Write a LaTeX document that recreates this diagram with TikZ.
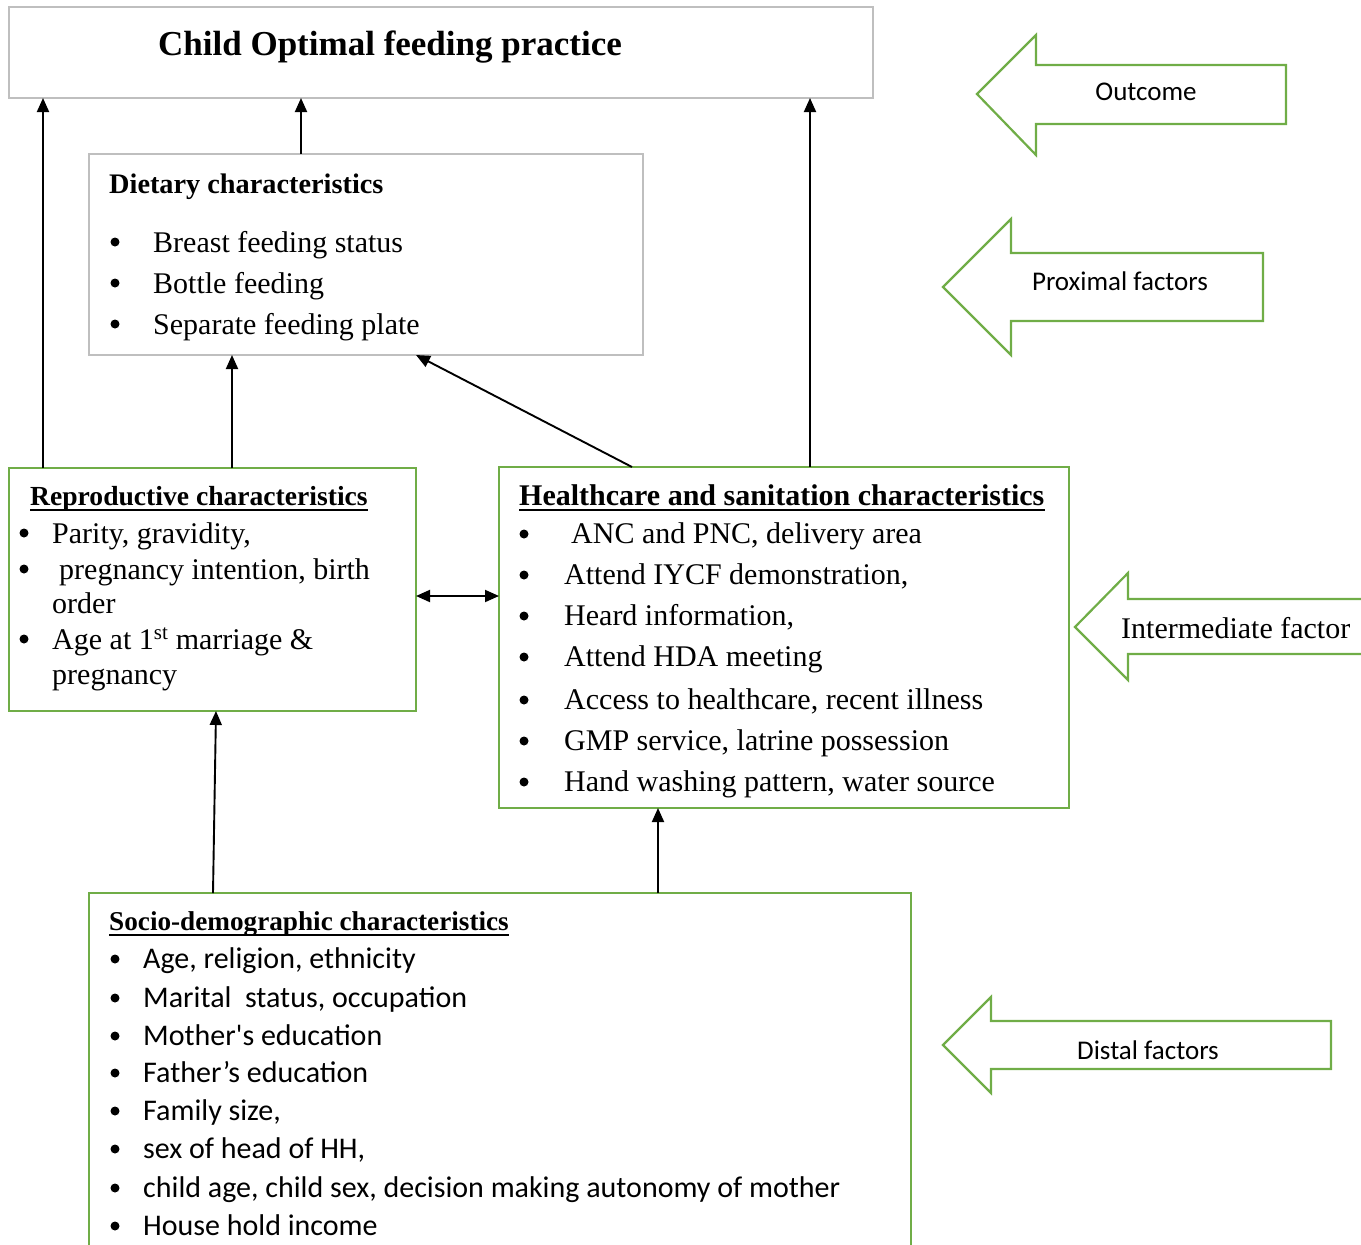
\documentclass[tikz,border=0pt]{standalone}
\usepackage{fontspec}
\setmainfont{Liberation Serif}
\newfontfamily\calfont{Carlito}
\usetikzlibrary{arrows.meta}
\definecolor{ogreen}{RGB}{112,173,71}
\definecolor{bgray}{RGB}{191,191,191}
\begin{document}
\begin{tikzpicture}[x=1pt,y=-1pt,
  gbox/.style={draw=ogreen, line width=2.2pt, line join=miter},
  graybox/.style={draw=bgray, line width=2.4pt},
  boxnode/.style={anchor=north west, inner sep=0pt, outer sep=0pt},
  conn/.style={draw=black, line width=1.9pt, -{Triangle[length=14pt,width=12pt]}},
  dconn/.style={draw=black, line width=1.9pt, {Triangle[length=14pt,width=12pt]}-{Triangle[length=14pt,width=12pt]}},
  txt/.style={anchor=base west, inner sep=0pt, font=\fontsize{30}{36}\selectfont},
  stxt/.style={anchor=base west, inner sep=0pt, font=\calfont\fontsize{30}{36}\selectfont},
  head/.style={anchor=base west, inner sep=0pt, font=\bfseries\fontsize{27.6}{34}\selectfont},
  bdot/.style={circle, fill=black, inner sep=0pt, minimum size=9pt},
  uline/.style={draw=black, line width=1.8pt},
  albl/.style={inner sep=0pt, font=\calfont\fontsize{27}{32}\selectfont}
]
\useasboundingbox (0,0) rectangle (1361,1245);
\clip (0,0) rectangle (1361,1245);

% boxes
\node[graybox, boxnode, minimum width=864pt, minimum height=91pt] (out) at (9,7) {};
\node[graybox, boxnode, minimum width=554pt, minimum height=201pt] (diet) at (89,154) {};
\node[gbox, boxnode, minimum width=407pt, minimum height=243pt] (repro) at (9,468) {};
\node[gbox, boxnode, minimum width=570pt, minimum height=341pt] (hc) at (499,467) {};
\node[gbox, boxnode, minimum width=822pt, minimum height=380pt] (socio) at (89,893) {};

% title
\node[anchor=base, inner sep=0pt, font=\bfseries\fontsize{35}{40}\selectfont] (title) at (390,55) {Child Optimal feeding practice};

% dietary
\node[head, font=\bfseries\fontsize{28.3}{34}\selectfont] (dh) at (109,193) {Dietary characteristics};
\node[bdot] (db1) at (115,242) {};
\node[bdot] (db2) at (115,283) {};
\node[bdot] (db3) at (115,324) {};
\node[txt] (d1) at (153,252) {Breast feeding status};
\node[txt] (d2) at (153,293) {Bottle feeding};
\node[txt] (d3) at (153,334) {Separate feeding plate};

% reproductive
\node[head] (rh) at (30,505) {Reproductive characteristics};
\draw[uline] ([yshift=-5pt]rh.base west) -- ([yshift=-5pt]rh.base east);
\node[bdot] (rb1) at (24,533) {};
\node[bdot] (rb2) at (24,569) {};
\node[bdot] (rb3) at (24,639) {};
\node[txt] (r1) at (52,543) {Parity, gravidity,};
\node[txt] (r2) at (59,579) {pregnancy intention, birth};
\node[txt] (r2b) at (52,613) {order};
\node[txt] (r3) at (52,649) {Age at 1\textsuperscript{st} marriage \&};
\node[txt] (r3b) at (52,684) {pregnancy};

% healthcare
\node[head, font=\bfseries\fontsize{30}{34}\selectfont] (hh) at (519,505) {Healthcare and sanitation characteristics};
\draw[uline] ([yshift=-5pt]hh.base west) -- ([yshift=-5pt]hh.base east);
\node[bdot] (hb1) at (524,534) {};
\node[bdot] (hb2) at (524,575) {};
\node[bdot] (hb3) at (524,616) {};
\node[bdot] (hb4) at (524,657) {};
\node[bdot] (hb5) at (524,700) {};
\node[bdot] (hb6) at (524,741) {};
\node[bdot] (hb7) at (524,782) {};
\node[txt] (h1) at (571,543) {ANC and PNC, delivery area};
\node[txt] (h2) at (564,584) {Attend IYCF demonstration,};
\node[txt] (h3) at (564,625) {Heard information,};
\node[txt] (h4) at (564,666) {Attend HDA meeting};
\node[txt] (h5) at (564,709) {Access to healthcare, recent illness};
\node[txt] (h6) at (564,750) {GMP service, latrine possession};
\node[txt] (h7) at (564,791) {Hand washing pattern, water source};

% socio-demographic
\node[head, font=\bfseries\fontsize{27.2}{34}\selectfont] (sh) at (109,930) {Socio-demographic characteristics};
\draw[uline] ([yshift=-5pt]sh.base west) -- ([yshift=-5pt]sh.base east);
\node[bdot] (sb1) at (115,959) {};
\node[bdot] (sb2) at (115,998) {};
\node[bdot] (sb3) at (115,1036) {};
\node[bdot] (sb4) at (115,1073) {};
\node[bdot] (sb5) at (115,1111) {};
\node[bdot] (sb6) at (115,1149) {};
\node[bdot] (sb7) at (115,1188) {};
\node[bdot] (sb8) at (115,1226) {};
\node[stxt] (s1) at (143,968) {Age, religion, ethnicity};
\node[stxt] (s2) at (143,1007) {Marital\ \ status, occupation};
\node[stxt] (s3) at (143,1045) {Mother's education};
\node[stxt] (s4) at (143,1082) {Father’s education};
\node[stxt] (s5) at (143,1120) {Family size,};
\node[stxt] (s6) at (143,1158) {sex of head of HH,};
\node[stxt] (s7) at (143,1197) {child age, child sex, decision making autonomy of mother};
\node[stxt] (s8) at (143,1235) {House hold income};

% block arrows
\draw[gbox] (977,94) -- (1036,35) -- (1036,65) -- (1286,65) -- (1286,124) -- (1036,124) -- (1036,155) -- cycle;
\node[albl] (lo) at (1146,92) {Outcome};
\draw[gbox] (943,287) -- (1011,219) -- (1011,253) -- (1263,253) -- (1263,321) -- (1011,321) -- (1011,355) -- cycle;
\node[albl] (lp) at (1120,281) {Proximal factors};
\draw[gbox] (1075,627) -- (1128,573) -- (1128,599) -- (1380,599) -- (1380,654) -- (1128,654) -- (1128,680) -- cycle;
\node[anchor=base west, inner sep=0pt, font=\fontsize{30}{36}\selectfont] (li) at (1121,638) {Intermediate factor};
\draw[gbox] (943,1045) -- (991,997) -- (991,1021) -- (1331,1021) -- (1331,1069) -- (991,1069) -- (991,1093) -- cycle;
\node[albl] (ld) at (1148,1050) {Distal factors};

% connector coordinates
\coordinate (xa) at (43,0);
\coordinate (xb) at (301,0);
\coordinate (xc) at (810,0);
\coordinate (xd) at (232,0);
\coordinate (xe) at (632,0);
\coordinate (xf) at (416,0);
\coordinate (xg) at (213,0);
\coordinate (xh) at (216,0);
\coordinate (xi) at (658,0);
\coordinate (ym) at (0,596);

\draw[conn] (repro.north -| xa) -- (out.south -| xa);
\draw[conn] (diet.north -| xb) -- (out.south -| xb);
\draw[conn] (hc.north -| xc) -- (out.south -| xc);
\draw[conn] (repro.north -| xd) -- (diet.south -| xd);
\draw[conn] (hc.north -| xe) -- (diet.south -| xf);
\draw[dconn] (repro.east |- ym) -- (hc.west |- ym);
\draw[conn] (socio.north -| xg) -- (repro.south -| xh);
\draw[conn] (socio.north -| xi) -- (hc.south -| xi);
\end{tikzpicture}
\end{document}
